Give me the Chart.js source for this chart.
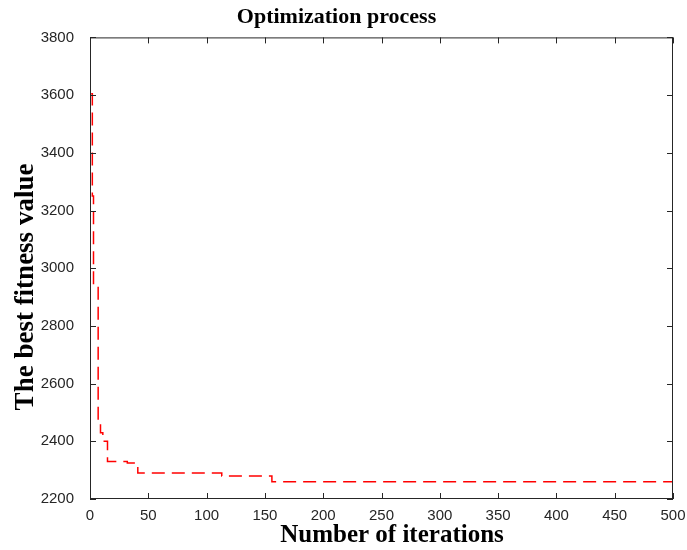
<!DOCTYPE html>
<html>
<head>
<meta charset="utf-8">
<title>Optimization process</title>
<script src="https://cdn.jsdelivr.net/npm/chart.js@4.4.1/dist/chart.umd.min.js"></script>
<style>
  html, body { margin: 0; padding: 0; background: #fff; }
  #wrap { width: 687px; height: 550px; }
</style>
</head>
<body>
<div id="wrap"><canvas id="chart" width="687" height="550"></canvas></div>
<script>
// === Data ===
const iterations = [1, 2, 3, 7, 9, 11, 15, 32, 41, 113, 156, 500];
const fitness    = [3605, 3250, 2940, 2470, 2430, 2400, 2330, 2325, 2290, 2280, 2260, 2260];

const xTicks = [0, 50, 100, 150, 200, 250, 300, 350, 400, 450, 500];
const yTicks = [2200, 2400, 2600, 2800, 3000, 3200, 3400, 3600, 3800];

const xTitle = 'Number of iterations';
const yTitle = 'The best fitness value';

const points = iterations.map((it, i) => ({ x: it, y: fitness[i] }));

// box round the plot with inward ticks, MATLAB style, plus axis titles
const boxPlugin = {
  id: 'box',
  afterDraw(chart) {
    const { ctx, chartArea: a, scales } = chart;
    ctx.save();
    ctx.strokeStyle = '#262626';
    ctx.lineWidth = 1;
    ctx.strokeRect(a.left + 0.5, a.top + 0.5, a.right - a.left - 1, a.bottom - a.top - 1);
    ctx.beginPath();
    const len = 6;
    xTicks.forEach(v => {
      const px = Math.round(scales.x.getPixelForValue(v)) + 0.5;
      ctx.moveTo(px, a.bottom); ctx.lineTo(px, a.bottom - len);
      ctx.moveTo(px, a.top); ctx.lineTo(px, a.top + len);
    });
    yTicks.forEach(v => {
      const py = Math.round(scales.y.getPixelForValue(v)) + 0.5;
      ctx.moveTo(a.left, py); ctx.lineTo(a.left + len, py);
      ctx.moveTo(a.right, py); ctx.lineTo(a.right - len, py);
    });
    ctx.stroke();

    // axis titles
    ctx.fillStyle = '#000';
    ctx.textAlign = 'center';
    ctx.textBaseline = 'alphabetic';
    ctx.font = 'bold 25px "Liberation Serif"';
    ctx.fillText(xTitle, 392, 542);
    ctx.translate(26, 287);
    ctx.rotate(-Math.PI / 2);
    ctx.textBaseline = 'middle';
    ctx.font = 'bold 27px "Liberation Serif"';
    ctx.fillText(yTitle, 0, 0);
    ctx.restore();
  }
};

new Chart(document.getElementById('chart'), {
  type: 'line',
  data: {
    datasets: [{
      data: points,
      borderColor: '#ff0000',
      borderWidth: 1.5,
      borderDash: [13, 7],
      stepped: 'before',
      pointRadius: 0,
      fill: false
    }]
  },
  options: {
    responsive: false,
    animation: false,
    layout: { padding: { left: 0, right: 14, top: 0, bottom: 0 } },
    plugins: {
      legend: { display: false },
      tooltip: { enabled: false },
      title: {
        display: true,
        text: 'Optimization process',
        color: '#000',
        font: { family: 'Liberation Serif', size: 22, weight: 'bold' },
        padding: { top: 4, bottom: 7 }
      }
    },
    scales: {
      x: {
        type: 'linear',
        min: 0, max: 500,
        afterBuildTicks: s => { s.ticks = xTicks.map(v => ({ value: v })); },
        afterFit: s => { s.height = 51; },
        grid: { display: false },
        border: { display: false },
        ticks: {
          color: '#262626',
          padding: 0,
          maxRotation: 0,
          callback: v => String(v),
          font: { family: 'Liberation Sans', size: 15 }
        }
      },
      y: {
        min: 2200, max: 3800,
        afterBuildTicks: s => { s.ticks = yTicks.map(v => ({ value: v })); },
        afterFit: s => { s.width = 90; },
        grid: { display: false },
        border: { display: false },
        ticks: {
          color: '#262626',
          padding: 8,
          callback: v => String(v),
          font: { family: 'Liberation Sans', size: 15 }
        }
      }
    }
  },
  plugins: [boxPlugin]
});
</script>
</body>
</html>
